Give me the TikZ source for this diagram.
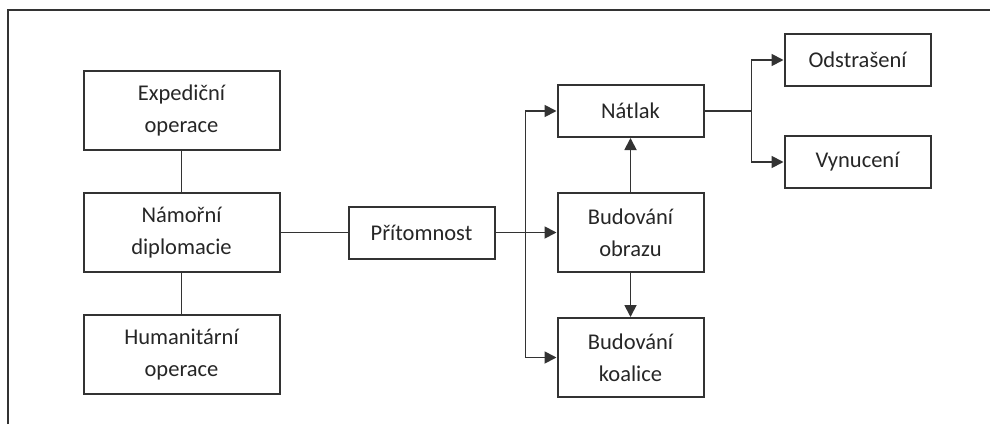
\documentclass[tikz,border=0pt]{standalone}
\usepackage{fontspec}
\setmainfont{Carlito}
\usepackage{tikz}
\usetikzlibrary{positioning,arrows.meta}
\tikzset{
  box/.style={rectangle, draw=black!80, line width=2pt, minimum width=146pt, minimum height=52pt, inner sep=2pt, font=\fontsize{22.5}{32}\selectfont, text=black!85, align=center},
  tallbox/.style={box, minimum height=79pt},
  widebox/.style={tallbox, minimum width=196pt},
  link/.style={draw=black!80, line width=1.8pt},
  fwd/.style={->, link, >={Triangle[length=12pt,width=12pt]}},
}

\begin{document}
\begin{tikzpicture}[x=1pt,y=1pt]
\useasboundingbox (0,0) rectangle (990,424);
\draw[link] (8,0) -- (8,414) -- (990,414);

%Nodes
\node[widebox] (namorni) at (181.5,191.5) {Námořní\\diplomacie};
\node[widebox] (expedicni) [above=41pt of namorni] {Expediční\\operace};
\node[widebox] (humanitarni) [below=41pt of namorni] {Humanitární\\operace};
\node[box] (pritomnost) [right=67pt of namorni] {Přítomnost};
\node[tallbox] (obraz) [right=61pt of pritomnost] {Budování\\obrazu};
\node[box] (natlak) [above=54pt of obraz] {Nátlak};
\node[tallbox] (koalice) [below=44pt of obraz] {Budování\\koalice};
\node[box] (odstraseni) [right=79pt of natlak, yshift=51pt] {Odstrašení};
\node[box] (vynuceni) [below=48pt of odstraseni] {Vynucení};

%Lines
\draw[link] (expedicni.south) -- (namorni.north);
\draw[link] (namorni.south) -- (humanitarni.north);
\draw[link] (namorni.east) -- (pritomnost.west);
\draw[fwd] (pritomnost.east) -- (obraz.west);
\draw[fwd] (pritomnost.east) ++(30,0) coordinate (bus) |- (natlak.west);
\draw[fwd] (bus) |- (koalice.west);
\draw[fwd] (obraz.north) -- (natlak.south);
\draw[fwd] (obraz.south) -- (koalice.north);
\draw[link] (natlak.east) -- ++(47,0) coordinate (split);
\draw[fwd] (split) |- (odstraseni.west);
\draw[fwd] (split) |- (vynuceni.west);
\end{tikzpicture}
\end{document}
